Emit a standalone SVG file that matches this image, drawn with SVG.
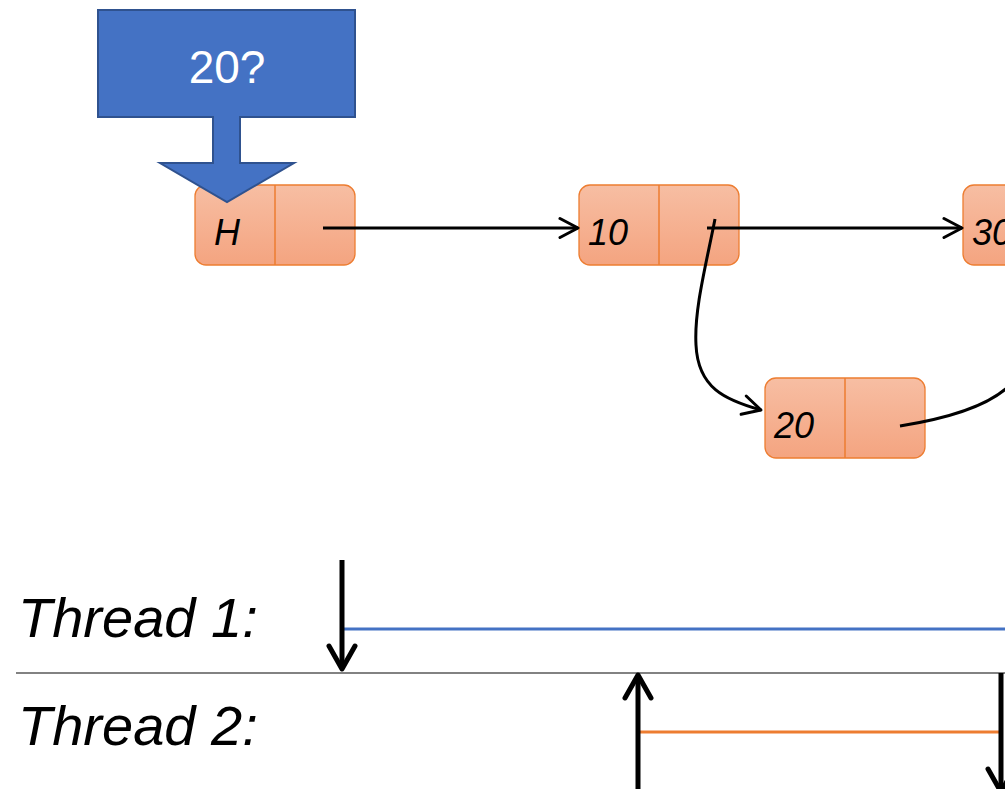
<svg xmlns="http://www.w3.org/2000/svg" width="1005" height="789" viewBox="0 0 1005 789">
  <defs>
    <linearGradient id="nodeFill" x1="0" y1="0" x2="0" y2="1">
      <stop offset="0" stop-color="#F7BEA3"/>
      <stop offset="1" stop-color="#F4A480"/>
    </linearGradient>
    <marker id="chev" viewBox="0 0 24 24" refX="22" refY="12" markerWidth="24" markerHeight="24" markerUnits="userSpaceOnUse" orient="auto">
      <path d="M4,2.5 L22,12 L4,21.5" fill="none" stroke="#000" stroke-width="3" stroke-linecap="round" stroke-linejoin="round"/>
    </marker>
    <marker id="chevBig" viewBox="0 0 34 34" refX="31" refY="17" markerWidth="34" markerHeight="34" markerUnits="userSpaceOnUse" orient="auto">
      <path d="M8,4 L31,17 L8,30" fill="none" stroke="#000" stroke-width="5" stroke-linecap="round" stroke-linejoin="round"/>
    </marker>
  </defs>
  <style>
    .box { fill: url(#nodeFill); stroke: #ED7D31; stroke-width: 1.3; }
    .div { stroke: #ED7D31; stroke-width: 1.5; }
    .lbl { font-family: "Liberation Sans", "DejaVu Sans", sans-serif; font-style: italic; font-size: 36px; fill: #000; }
    .link { fill: none; stroke: #000; stroke-width: 3; marker-end: url(#chev); }
    .thread { font-family: "Liberation Sans", "DejaVu Sans", sans-serif; font-style: italic; font-size: 56px; fill: #000; }
    .tarrow { fill: none; stroke: #000; stroke-width: 5; marker-end: url(#chevBig); }
  </style>
  <rect width="1005" height="789" fill="#fff"/>

  <!-- list nodes -->
  <g id="node-h">
    <rect class="box" x="195" y="185" width="160" height="80" rx="11"/>
    <line class="div" x1="275" y1="185" x2="275" y2="265"/>
    <text class="lbl" x="214" y="245">H</text>
  </g>
  <g id="node-10">
    <rect class="box" x="579" y="185" width="160" height="80" rx="11"/>
    <line class="div" x1="659" y1="185" x2="659" y2="265"/>
    <text class="lbl" x="588" y="245">10</text>
  </g>
  <g id="node-30">
    <rect class="box" x="963" y="185" width="160" height="80" rx="11"/>
    <line class="div" x1="1043" y1="185" x2="1043" y2="265"/>
    <text class="lbl" x="972" y="245">30</text>
  </g>
  <g id="node-20">
    <rect class="box" x="765" y="378" width="160" height="80" rx="11"/>
    <line class="div" x1="845" y1="378" x2="845" y2="458"/>
    <text class="lbl" x="774" y="438">20</text>
  </g>

  <!-- callout pointing at the head node, drawn over it -->
  <g id="query">
    <path d="M98,10 H355 V117 H240 V163 H294 L227,202 L160,163 H213 V117 H98 Z" fill="#4472C4" stroke="#2F528F" stroke-width="2"/>
    <text x="227" y="83" text-anchor="middle" font-family="Liberation Sans, DejaVu Sans, sans-serif" font-size="46" fill="#fff">20?</text>
  </g>

  <!-- pointers -->
  <g id="connectors">
    <path class="link" d="M323,228 H578"/>
    <path class="link" d="M707,228 H962"/>
    <path class="link" d="M715,219 C706,265 694,310 696,345 C698,388 725,400 761,410"/>
    <path fill="none" stroke="#000" stroke-width="3" d="M900,426 C950,418 990,405 1010,385"/>
  </g>

  <!-- thread timelines -->
  <g id="timeline">
    <text class="thread" x="18" y="637">Thread 1:</text>
    <text class="thread" x="18" y="745">Thread 2:</text>
    <line x1="16" y1="673" x2="1005" y2="673" stroke="#595959" stroke-width="1.5"/>
    <line x1="343" y1="629" x2="1005" y2="629" stroke="#4472C4" stroke-width="3"/>
    <line x1="639" y1="732" x2="1001" y2="732" stroke="#ED7D31" stroke-width="3"/>
    <path class="tarrow" d="M342,560 V669"/>
    <path class="tarrow" d="M638,789 V675"/>
    <path class="tarrow" d="M1001,673 V792"/>
  </g>
</svg>
